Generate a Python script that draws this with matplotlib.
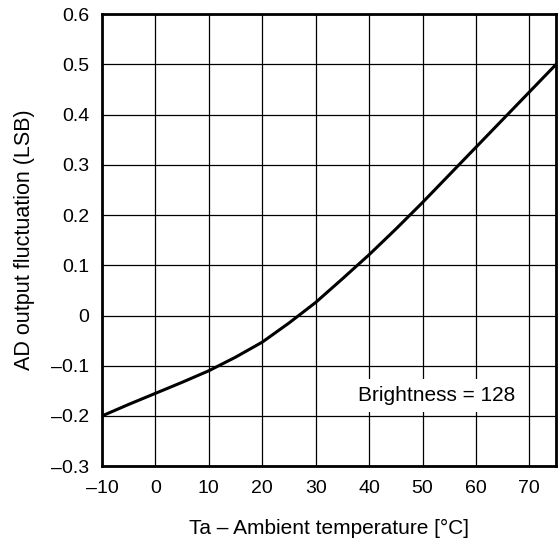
import matplotlib
matplotlib.use("Agg")
import matplotlib.pyplot as plt
from matplotlib.ticker import FuncFormatter

# curve
temp = [-10, -5, 0, 5, 10, 15, 20, 25, 30, 35, 40, 45, 50, 55, 60, 65, 70, 75]
fluct = [-0.200, -0.177, -0.155, -0.133, -0.110, -0.083, -0.053, -0.015, 0.026,
         0.073, 0.121, 0.172, 0.225, 0.280, 0.335, 0.390, 0.445, 0.500]

xticks = [-10, 0, 10, 20, 30, 40, 50, 60, 70]
yticks = [-0.3, -0.2, -0.1, 0, 0.1, 0.2, 0.3, 0.4, 0.5, 0.6]

plt.rcParams['font.family'] = ['Liberation Sans', 'DejaVu Sans']

fig = plt.figure(figsize=(5.6, 5.44), dpi=100)
ax = fig.add_axes([0.182, 0.143, 0.811, 0.831])

ax.plot(temp, fluct, color='black', linewidth=2.2, zorder=3)

ax.set_xlim(-10, 75)
ax.set_ylim(-0.3, 0.6)
ax.set_xticks(xticks)
ax.set_yticks(yticks)

def fmt(v, pos):
	s = "%g" % round(v, 2)
	return s.replace("-", "\u2013")

ax.xaxis.set_major_formatter(FuncFormatter(fmt))
ax.yaxis.set_major_formatter(FuncFormatter(fmt))
ax.tick_params(length=0, labelsize=14)
ax.tick_params(axis='y', pad=9)
ax.tick_params(axis='x', pad=10)
ax.grid(True, color='black', linewidth=0.9)
for s in ax.spines.values():
	s.set_linewidth(2)

ax.set_xlabel("Ta \u2013 Ambient temperature [\u00b0C]", fontsize=15, labelpad=16)
ax.set_ylabel("AD output fluctuation (LSB)", fontsize=15.5, labelpad=12)

ax.text(52.7, -0.159, "Brightness = 128", fontsize=15, ha='center', va='center', zorder=4,
	bbox=dict(facecolor='white', edgecolor='none', pad=5))

fig.savefig("out.png", dpi=100)
